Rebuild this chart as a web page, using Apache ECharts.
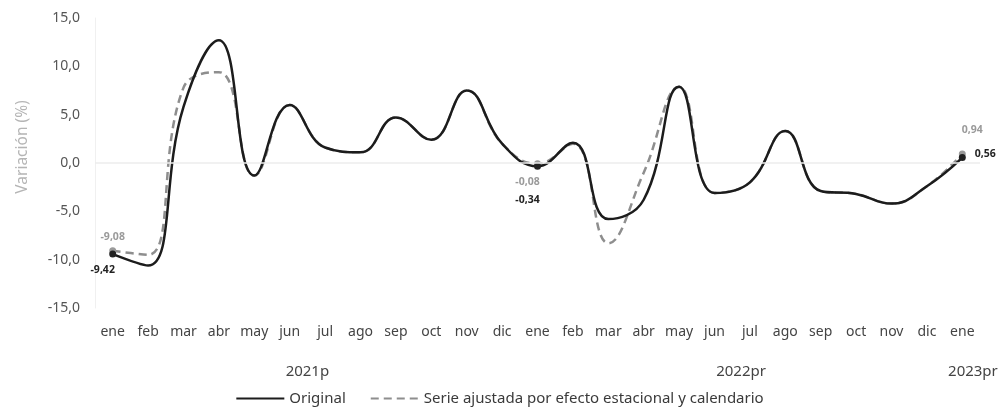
<!DOCTYPE html>
<html>
<head>
<meta charset="utf-8">
<script src="https://cdn.jsdelivr.net/npm/echarts@6/dist/echarts.min.js"></script>
<style>html,body{margin:0;padding:0;background:#fff}#c{width:999px;height:414px}</style>
</head>
<body>
<div id="c"></div>
<script>
var months = ['ene','feb','mar','abr','may','jun','jul','ago','sep','oct','nov','dic',
              'ene','feb','mar','abr','may','jun','jul','ago','sep','oct','nov','dic','ene'];
var original = [-9.42,-10.6,5.8,12.7,-1.3,6.0,1.6,1.1,4.7,2.4,7.5,2.0,
                -0.34,2.1,-5.8,-3.8,7.9,-3.1,-2.0,3.3,-2.9,-3.2,-4.2,-2.4,0.56];
var ajustada = [-9.08,-9.5,7.8,9.4,-1.3,6.0,1.6,1.1,4.7,2.4,7.5,2.0,
                -0.08,2.0,-8.3,-1.0,7.9,-3.1,-2.0,3.3,-2.9,-3.2,-4.2,-2.4,0.94];
var yearLabels = [{text:'2021p', pos:5.5}, {text:'2022pr', pos:17.75}, {text:'2023pr', pos:24.3}];
var labeledIdx = [0, 12, 24];
var seriesNames = ['Original', 'Serie ajustada por efecto estacional y calendario'];

function fmt(v){ return v.toFixed(2).replace('.', ','); }

var origLabelPos = {0:{position:'bottom', offset:[-10,2]}, 12:{position:'bottom', offset:[-10,20]}, 24:{position:'right', offset:[4,-4]}};
var ajLabelPos = {0:{position:'top', offset:[0,0]}, 12:{position:'bottom', offset:[-10,4]}, 24:{position:'top', offset:[10,-10]}};

function build(arr, posMap, color){
  return arr.map(function(v,i){
    if (labeledIdx.indexOf(i) < 0) return v;
    return {value:v, symbol:'circle', symbolSize:7,
      itemStyle:{color:color},
      label:{show:true, position:posMap[i].position, offset:posMap[i].offset,
             formatter:fmt(v), color:color, fontSize:10.5, fontWeight:'bold', fontFamily:'Noto Sans'}};
  });
}

var chart = echarts.init(document.getElementById('c'));
chart.setOption({
  animation:false,
  textStyle:{fontFamily:'Noto Sans'},
  grid:{left:95, right:19, top:18, bottom:106},
  legend:{
    bottom:3, left:'center', itemWidth:48, itemHeight:10, itemGap:24,
    itemStyle:{opacity:0},
    textStyle:{color:'#3a3a3a', fontSize:15, fontFamily:'Noto Sans'},
    data:seriesNames
  },
  xAxis:{
    type:'category', data:months, boundaryGap:true,
    axisLine:{show:false, onZero:false}, axisTick:{show:false},
    axisLabel:{color:'#444', fontSize:14, margin:17, interval:0}
  },
  yAxis:{
    type:'value', min:-15, max:15, interval:5,
    name:'Variación (%)', nameLocation:'middle', nameGap:64,
    nameTextStyle:{color:'#b5b5b5', fontSize:15.5, padding:[0,0,0,32]},
    axisLine:{show:true, lineStyle:{color:'#f0f0f0'}}, axisTick:{show:false},
    splitLine:{show:false},
    axisLabel:{color:'#555', fontSize:14, margin:15,
      formatter:function(v){ return v.toFixed(1).replace('.', ','); }}
  },
  series:[
    {
      name:seriesNames[1], type:'line', smooth:0.45, symbol:'none', z:2,
      lineStyle:{color:'#8e8e8e', width:2.5, type:[8,5]},
      itemStyle:{color:'#8e8e8e'},
      data:build(ajustada, ajLabelPos, '#9a9a9a'),
      markLine:{silent:true, symbol:'none', label:{show:false},
        lineStyle:{color:'#ececec', width:1.5, type:'solid'}, data:[{yAxis:0}]}
    },
    {
      name:seriesNames[0], type:'line', smooth:0.45, symbol:'none', z:3,
      lineStyle:{color:'#1c1c1c', width:2.5},
      itemStyle:{color:'#1c1c1c'},
      data:build(original, origLabelPos, '#222')
    }
  ]
});

var bottomY = chart.convertToPixel({yAxisIndex:0}, -15);
var g = yearLabels.map(function(y){
  var x0 = chart.convertToPixel({xAxisIndex:0}, 0);
  var x1 = chart.convertToPixel({xAxisIndex:0}, 1);
  var x = x0 + (x1 - x0) * y.pos;
  return {type:'text', x:x, y:bottomY + 64,
    style:{text:y.text, fill:'#444', fontSize:15, fontFamily:'Noto Sans', align:'center', verticalAlign:'middle'}};
});
chart.setOption({graphic:g});
</script>
</body>
</html>
